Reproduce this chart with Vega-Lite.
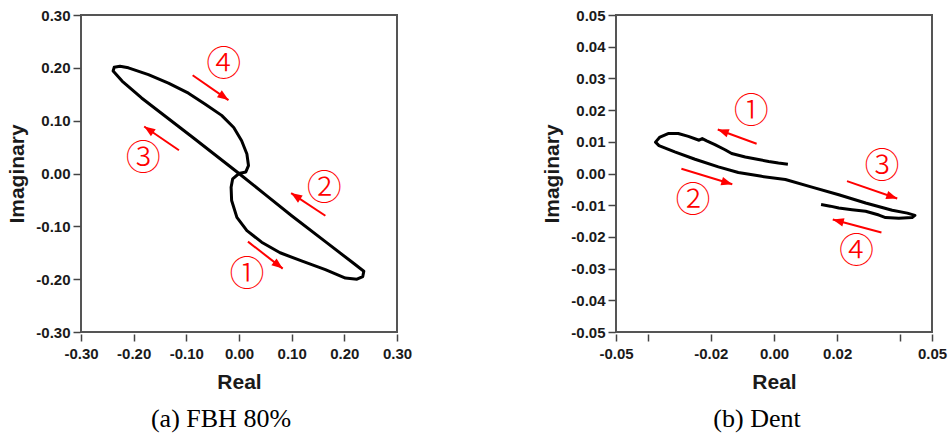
{
  "$schema": "https://vega.github.io/schema/vega-lite/v6.json",
  "padding": {"left": 5, "top": 7, "right": 5, "bottom": 3},
  "background": "white",
  "spacing": 219,
  "bounds": "flush",
  "datasets": {
    "a_curve": [
      {"i": 0, "x": 0.000, "y": 0.000},
      {"i": 1, "x": -0.012, "y": -0.010},
      {"i": 2, "x": -0.015, "y": -0.026},
      {"i": 3, "x": -0.014, "y": -0.051},
      {"i": 4, "x": -0.004, "y": -0.083},
      {"i": 5, "x": 0.015, "y": -0.108},
      {"i": 6, "x": 0.043, "y": -0.130},
      {"i": 7, "x": 0.078, "y": -0.150},
      {"i": 8, "x": 0.120, "y": -0.166},
      {"i": 9, "x": 0.164, "y": -0.182},
      {"i": 10, "x": 0.202, "y": -0.198},
      {"i": 11, "x": 0.224, "y": -0.200},
      {"i": 12, "x": 0.235, "y": -0.195},
      {"i": 13, "x": 0.237, "y": -0.185},
      {"i": 14, "x": 0.215, "y": -0.168},
      {"i": 15, "x": 0.164, "y": -0.129},
      {"i": 16, "x": 0.100, "y": -0.080},
      {"i": 17, "x": 0.050, "y": -0.040},
      {"i": 18, "x": 0.000, "y": 0.000},
      {"i": 19, "x": -0.090, "y": 0.070},
      {"i": 20, "x": -0.185, "y": 0.143},
      {"i": 21, "x": -0.222, "y": 0.175},
      {"i": 22, "x": -0.239, "y": 0.194},
      {"i": 23, "x": -0.237, "y": 0.201},
      {"i": 24, "x": -0.226, "y": 0.203},
      {"i": 25, "x": -0.210, "y": 0.200},
      {"i": 26, "x": -0.172, "y": 0.187},
      {"i": 27, "x": -0.134, "y": 0.171},
      {"i": 28, "x": -0.096, "y": 0.152},
      {"i": 29, "x": -0.064, "y": 0.131},
      {"i": 30, "x": -0.033, "y": 0.110},
      {"i": 31, "x": -0.010, "y": 0.087},
      {"i": 32, "x": 0.005, "y": 0.062},
      {"i": 33, "x": 0.015, "y": 0.037},
      {"i": 34, "x": 0.018, "y": 0.015},
      {"i": 35, "x": 0.013, "y": 0.003},
      {"i": 36, "x": 0.000, "y": 0.000}
    ],
    "a_arrows": [
      {"x": 0.017, "y": -0.129, "x2": 0.083, "y2": -0.180},
      {"x": 0.164, "y": -0.080, "x2": 0.099, "y2": -0.037},
      {"x": -0.114, "y": 0.044, "x2": -0.180, "y2": 0.089},
      {"x": -0.088, "y": 0.186, "x2": -0.020, "y2": 0.139}
    ],
    "a_labels": [
      {"label": "①", "x": 0.015, "y": -0.193},
      {"label": "②", "x": 0.162, "y": -0.029},
      {"label": "③", "x": -0.182, "y": 0.028},
      {"label": "④", "x": -0.029, "y": 0.205}
    ],
    "b_curve": [
      {"i": 0, "x": 0.0044, "y": 0.0029},
      {"i": 1, "x": 0.0014, "y": 0.0033},
      {"i": 2, "x": -0.0017, "y": 0.0038},
      {"i": 3, "x": -0.0049, "y": 0.0044},
      {"i": 4, "x": -0.0091, "y": 0.0052},
      {"i": 5, "x": -0.0134, "y": 0.0063},
      {"i": 6, "x": -0.0155, "y": 0.0075},
      {"i": 7, "x": -0.0187, "y": 0.0091},
      {"i": 8, "x": -0.0213, "y": 0.0103},
      {"i": 9, "x": -0.0227, "y": 0.0110},
      {"i": 10, "x": -0.0237, "y": 0.0105},
      {"i": 11, "x": -0.0271, "y": 0.0117},
      {"i": 12, "x": -0.0303, "y": 0.0126},
      {"i": 13, "x": -0.0335, "y": 0.0126},
      {"i": 14, "x": -0.0361, "y": 0.0115},
      {"i": 15, "x": -0.0375, "y": 0.0099},
      {"i": 16, "x": -0.0364, "y": 0.0088},
      {"i": 17, "x": -0.0314, "y": 0.0068},
      {"i": 18, "x": -0.0250, "y": 0.0045},
      {"i": 19, "x": -0.0176, "y": 0.0021},
      {"i": 20, "x": -0.0113, "y": 0.0003},
      {"i": 21, "x": -0.0039, "y": -0.0009},
      {"i": 22, "x": 0.0036, "y": -0.0019},
      {"i": 23, "x": 0.0120, "y": -0.0043},
      {"i": 24, "x": 0.0205, "y": -0.0067},
      {"i": 25, "x": 0.0290, "y": -0.0093},
      {"i": 26, "x": 0.0374, "y": -0.0116},
      {"i": 27, "x": 0.0422, "y": -0.0125},
      {"i": 28, "x": 0.0446, "y": -0.0132},
      {"i": 29, "x": 0.0437, "y": -0.0139},
      {"i": 30, "x": 0.0395, "y": -0.0141},
      {"i": 31, "x": 0.0353, "y": -0.0139},
      {"i": 32, "x": 0.0332, "y": -0.0131},
      {"i": 33, "x": 0.0290, "y": -0.0119},
      {"i": 34, "x": 0.0247, "y": -0.0114},
      {"i": 35, "x": 0.0205, "y": -0.0109},
      {"i": 36, "x": 0.0178, "y": -0.0103},
      {"i": 37, "x": 0.0149, "y": -0.0098}
    ],
    "b_arrows": [
      {"x": -0.0055, "y": 0.0094, "x2": -0.0178, "y2": 0.0139},
      {"x": -0.0293, "y": 0.0015, "x2": -0.0132, "y2": -0.0034},
      {"x": 0.0231, "y": -0.0024, "x2": 0.0390, "y2": -0.0079},
      {"x": 0.0340, "y": -0.0186, "x2": 0.0186, "y2": -0.0145}
    ],
    "b_labels": [
      {"label": "①", "x": -0.0072, "y": 0.0194},
      {"label": "②", "x": -0.0256, "y": -0.0087},
      {"label": "③", "x": 0.0342, "y": 0.0019},
      {"label": "④", "x": 0.0261, "y": -0.0248}
    ]
  },
  "hconcat": [
    {
      "width": 316,
      "height": 317,
      "title": {"text": "(a) FBH 80%", "orient": "bottom", "font": "Liberation Serif", "fontSize": 26, "fontWeight": "normal", "color": "black", "anchor": "middle", "dx": -18, "offset": 14},
      "layer": [
        {
          "data": {"name": "a_curve"},
          "mark": {"type": "line", "color": "black", "strokeWidth": 3, "strokeJoin": "round"},
          "encoding": {
            "x": {"field": "x", "type": "quantitative", "title": "Real",
                  "scale": {"domain": [-0.3, 0.3], "nice": false, "zero": false},
                  "axis": {"values": [-0.3, -0.2, -0.1, 0, 0.1, 0.2, 0.3], "labelOverlap": false, "labelExpr": "replace(format(datum.value, '.2f'), '\u2212', '-')"}},
            "y": {"field": "y", "type": "quantitative", "title": "Imaginary",
                  "scale": {"domain": [-0.3, 0.3], "nice": false, "zero": false},
                  "axis": {"values": [-0.3, -0.2, -0.1, 0, 0.1, 0.2, 0.3], "labelOverlap": false, "labelExpr": "replace(format(datum.value, '.2f'), '\u2212', '-')"}},
            "order": {"field": "i", "type": "quantitative"}
          }
        },
        {
          "data": {"name": "a_arrows"},
          "mark": {"type": "rule", "color": "#ff0000", "strokeWidth": 2},
          "encoding": {
            "x": {"field": "x", "type": "quantitative", "title": "Real"},
            "y": {"field": "y", "type": "quantitative", "title": "Imaginary"},
            "x2": {"field": "x2"},
            "y2": {"field": "y2"}
          }
        },
        {
          "data": {"name": "a_arrows"},
          "transform": [{"calculate": "atan2(datum.x2 - datum.x, datum.y2 - datum.y) * 180 / PI", "as": "ang"}],
          "mark": {"type": "point", "shape": "M0,0L-1,2.6L1,2.6Z", "filled": true, "color": "#ff0000", "opacity": 1, "size": 72},
          "encoding": {
            "x": {"field": "x2", "type": "quantitative", "title": "Real"},
            "y": {"field": "y2", "type": "quantitative", "title": "Imaginary"},
            "angle": {"field": "ang", "type": "quantitative", "scale": null}
          }
        },
        {
          "data": {"name": "a_labels"},
          "mark": {"type": "text", "color": "#ff0000", "font": "Noto Sans CJK JP", "fontSize": 35, "fontWeight": 300, "baseline": "middle", "align": "center"},
          "encoding": {
            "x": {"field": "x", "type": "quantitative", "title": "Real"},
            "y": {"field": "y", "type": "quantitative", "title": "Imaginary"},
            "text": {"field": "label"}
          }
        }
      ]
    },
    {
      "width": 316,
      "height": 317,
      "title": {"text": "(b) Dent", "orient": "bottom", "font": "Liberation Serif", "fontSize": 26, "fontWeight": "normal", "color": "black", "anchor": "middle", "dx": -17, "offset": 14},
      "layer": [
        {
          "data": {"name": "b_curve"},
          "mark": {"type": "line", "color": "black", "strokeWidth": 3, "strokeJoin": "round"},
          "encoding": {
            "x": {"field": "x", "type": "quantitative", "title": "Real",
                  "scale": {"domain": [-0.05, 0.05], "nice": false, "zero": false},
                  "axis": {"values": [-0.05, -0.04, -0.02, 0, 0.02, 0.04, 0.05], "labelOverlap": false, "labelExpr": "abs(abs(datum.value) - 0.04) < 0.001 ? '' : replace(format(datum.value, '.2f'), '\u2212', '-')"}},
            "y": {"field": "y", "type": "quantitative", "title": "Imaginary",
                  "scale": {"domain": [-0.05, 0.05], "nice": false, "zero": false},
                  "axis": {"values": [-0.05, -0.04, -0.03, -0.02, -0.01, 0, 0.01, 0.02, 0.03, 0.04, 0.05], "labelOverlap": false, "tickCount": 11, "labelExpr": "replace(format(datum.value, '.2f'), '\u2212', '-')"}},
            "order": {"field": "i", "type": "quantitative"}
          }
        },
        {
          "data": {"name": "b_arrows"},
          "mark": {"type": "rule", "color": "#ff0000", "strokeWidth": 2},
          "encoding": {
            "x": {"field": "x", "type": "quantitative", "title": "Real"},
            "y": {"field": "y", "type": "quantitative", "title": "Imaginary"},
            "x2": {"field": "x2"},
            "y2": {"field": "y2"}
          }
        },
        {
          "data": {"name": "b_arrows"},
          "transform": [{"calculate": "atan2(datum.x2 - datum.x, datum.y2 - datum.y) * 180 / PI", "as": "ang"}],
          "mark": {"type": "point", "shape": "M0,0L-1,2.6L1,2.6Z", "filled": true, "color": "#ff0000", "opacity": 1, "size": 72},
          "encoding": {
            "x": {"field": "x2", "type": "quantitative", "title": "Real"},
            "y": {"field": "y2", "type": "quantitative", "title": "Imaginary"},
            "angle": {"field": "ang", "type": "quantitative", "scale": null}
          }
        },
        {
          "data": {"name": "b_labels"},
          "mark": {"type": "text", "color": "#ff0000", "font": "Noto Sans CJK JP", "fontSize": 35, "fontWeight": 300, "baseline": "middle", "align": "center"},
          "encoding": {
            "x": {"field": "x", "type": "quantitative", "title": "Real"},
            "y": {"field": "y", "type": "quantitative", "title": "Imaginary"},
            "text": {"field": "label"}
          }
        }
      ]
    }
  ],
  "config": {
    "view": {"stroke": "#555555", "strokeWidth": 2},
    "axis": {
      "grid": false,
      "domain": false,
      "labelOverlap": false,
      "labelFlush": false,
      "tickColor": "#444444",
      "tickWidth": 1.5,
      "tickSize": 7,
      "labelFont": "Liberation Sans",
      "labelFontSize": 15,
      "labelFontWeight": "bold",
      "labelColor": "#1a1a1a",
      "labelPadding": 3,
      "titleFont": "Liberation Sans",
      "titleFontSize": 21,
      "titleFontWeight": "bold",
      "titleColor": "#1a1a1a"
    },
    "axisX": {"offset": 2, "titlePadding": 10, "labelPadding": 5},
    "axisY": {"offset": 1, "titlePadding": 8}
  }
}
